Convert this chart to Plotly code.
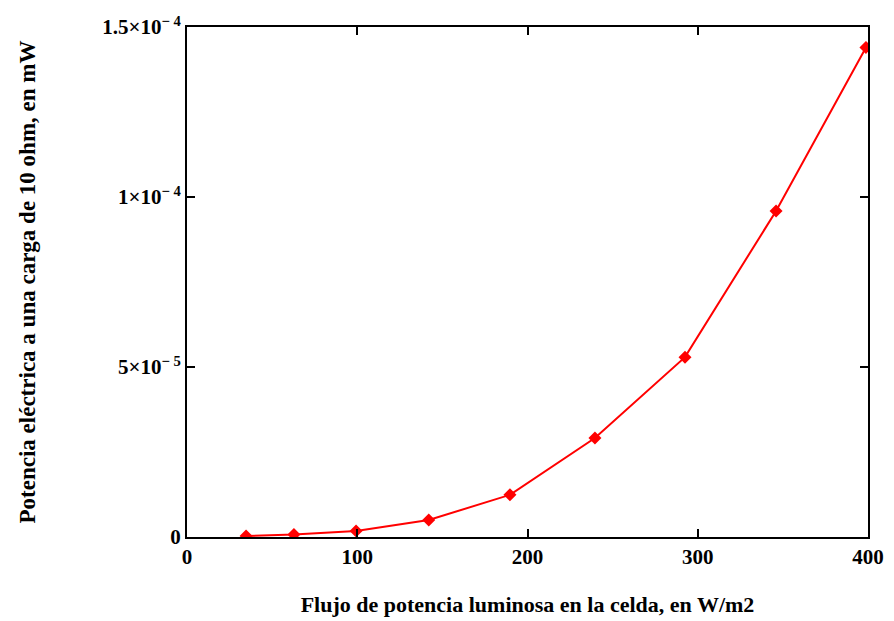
import plotly.graph_objects as go

flujo = [34.7, 62.8, 99.3, 142, 189.7, 239.6, 292.5, 346, 398.8]
potencia = [0.3e-6, 0.7e-6, 1.8e-6, 5.0e-6, 1.24e-5, 2.91e-5, 5.29e-5, 9.59e-5, 1.44e-4]

x_ticks = [0, 100, 200, 300, 400]
y_ticks = [0, 5e-5, 1e-4, 1.5e-4]
y_ticktext = ["0", "5×10<sup>− 5</sup>", "1×10<sup>− 4</sup>", "1.5×10<sup>− 4</sup>"]

font = dict(family="Liberation Serif, Times New Roman, serif", color="black")

fig = go.Figure()
fig.add_trace(go.Scatter(
    x=flujo, y=potencia, mode="lines+markers",
    line=dict(color="red", width=2),
    marker=dict(symbol="diamond", size=10, color="red"),
    showlegend=False,
))

fig.update_layout(
    width=894, height=621,
    margin=dict(l=187, r=26, t=27, b=84),
    paper_bgcolor="white", plot_bgcolor="white",
    font=font,
    xaxis=dict(
        range=[0, 400], tickvals=x_ticks, ticktext=[f"<b>{v}</b>" for v in x_ticks],
        showgrid=False, zeroline=False, automargin=False,
        showline=True, linecolor="black", linewidth=2, mirror="ticks",
        ticks="inside", ticklen=8, tickwidth=1.5, tickcolor="black",
        tickfont=dict(size=21, **font),
        title=dict(text="<b>Flujo de potencia luminosa en la celda, en W/m2</b>",
                   font=dict(size=22, **font), standoff=28),
    ),
    yaxis=dict(
        range=[0, 1.5e-4], tickvals=y_ticks, ticktext=[f"<b>{t}</b>" for t in y_ticktext],
        showgrid=False, zeroline=False, automargin=False,
        showline=True, linecolor="black", linewidth=2, mirror="ticks",
        ticks="inside", ticklen=8, tickwidth=1.5, tickcolor="black",
        tickfont=dict(size=21, **font),
        title=dict(text="<b>Potencia eléctrica a una carga de 10 ohm, en mW</b>",
                   font=dict(size=23, **font), standoff=60),
    ),
)

fig.write_html("out.html")
